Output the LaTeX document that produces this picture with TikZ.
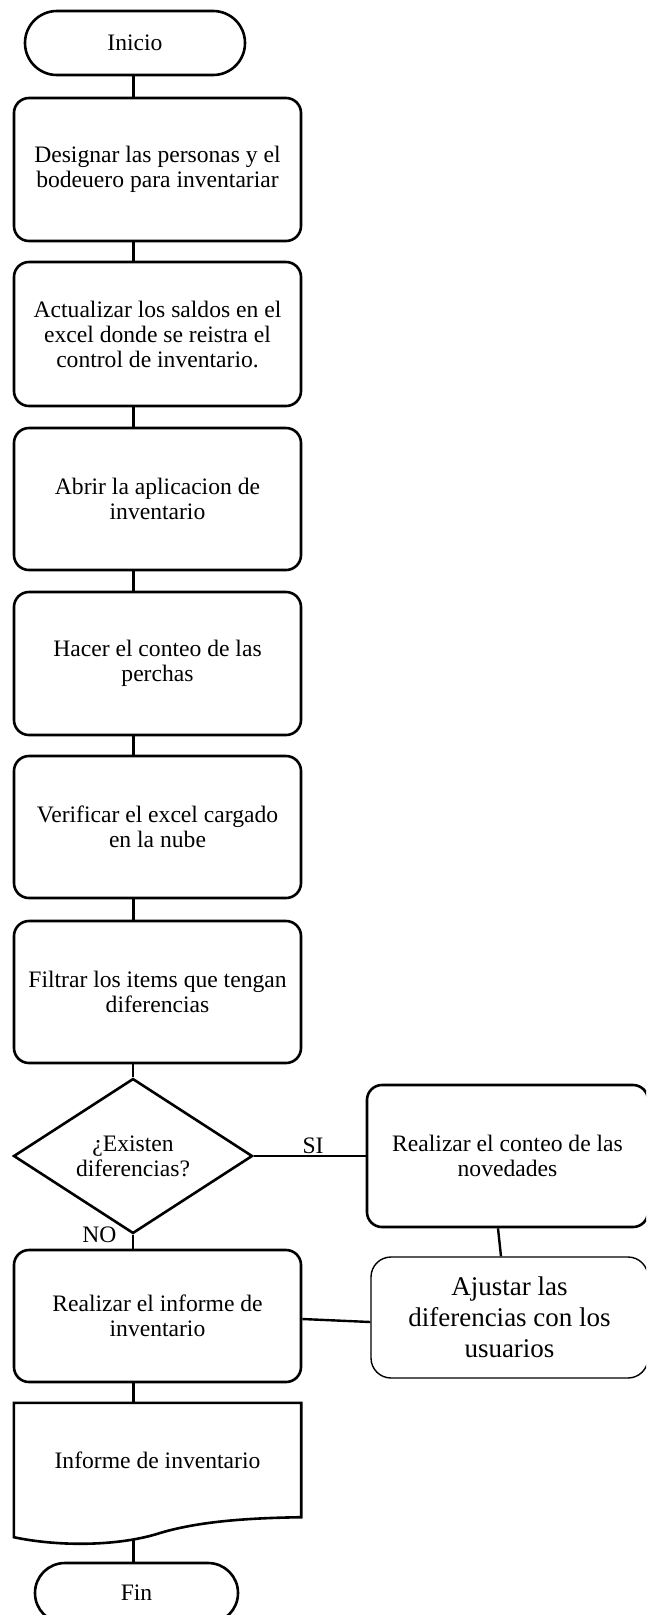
\documentclass[tikz,border=0pt]{standalone}
\usepackage{fontspec}
\setmainfont{Liberation Serif}
\usetikzlibrary{shapes.geometric,calc}
\begin{document}
\begin{tikzpicture}[x=1pt,y=-1pt,
  base/.style={font=\fontsize{23.6}{25}\selectfont, align=center, inner sep=0pt},
  term/.style={base, draw, line width=2.6pt},
  proc/.style={base, draw, line width=2.6pt, rounded corners=15pt, minimum width=287pt},
  link/.style={line width=2.4pt},
  lbl/.style={base}]
\useasboundingbox (0,0) rectangle (646,1615);
\clip (0,0) rectangle (646,1615);
\coordinate (spine) at (133.5,0);
\node[term, minimum width=220pt, minimum height=64pt, rounded corners=31.9pt] (ini) at (135,43) {Inicio};
\node[proc, minimum height=143pt] (b1) at (157.5,169.5) {Designar las personas y el\\bodeuero para inventariar};
\node[proc, minimum height=144pt] (b2) at (157.5,334) {Actualizar los saldos en el\\excel donde se reistra el\\control de inventario.};
\node[proc, minimum height=142pt] (b3) at (157.5,499) {Abrir la aplicacion de\\inventario};
\node[proc, minimum height=143pt] (b4) at (157.5,663.5) {Hacer el conteo de las\\perchas};
\node[proc, minimum height=142pt] (b5) at (157.5,827) {Verificar el excel cargado\\en la nube};
\node[proc, minimum height=142pt] (b6) at (157.5,992) {Filtrar los items que tengan\\diferencias};
\node[base, draw, diamond, line width=2.6pt, minimum width=239pt, minimum height=142pt] (dia) at (133,1156) {¿Existen\\diferencias?};
\node[proc, minimum width=281pt, minimum height=142pt] (r1) at (507.5,1156) {Realizar el conteo de las\\novedades};
\node[base, draw, line width=1.4pt, rounded corners=20pt, minimum width=277pt, minimum height=121pt, font=\fontsize{27}{31}\selectfont] (aj) at (509.5,1317.5) {Ajustar las\\diferencias con los\\usuarios};
\node[proc, minimum height=132pt] (inf) at (157.5,1316) {Realizar el informe de\\inventario};
\node[base, minimum width=287pt, minimum height=114pt] (doc) at (157.5,1460) {Informe de inventario};
\draw[line width=2.6pt] (doc.north west) -- (doc.north east) -- (doc.south east)
  .. controls (250,1518) and (200,1521) .. (160,1533)
  .. controls (120,1546) and (60,1547) .. ($(doc.south west)+(0,20)$) -- cycle;
\coordinate (docb) at (133.5,1539);
\node[term, minimum width=203pt, minimum height=60pt, rounded corners=29.9pt] (fin) at (136.5,1593) {Fin};
\draw[link] (ini.south -| spine) -- (b1.north -| spine);
\foreach \a/\b in {b1/b2,b2/b3,b3/b4,b4/b5,b5/b6}
  \draw[link] (\a.south -| spine) -- (\b.north -| spine);
\draw[link] (b6.south -| dia.north) -- (dia.north);
\draw[link] (dia.south) -- (inf.north -| dia.south);
\draw[link] (dia.east) -- (r1.west);
\draw[link] ($(r1.south)+(-9.5,0)$) -- ($(aj.north)+(-8.5,0)$);
\draw[link] ($(inf.east)+(0,3)$) -- ($(aj.west)+(0,4.5)$);
\draw[link] (inf.south -| spine) -- (doc.north -| spine);
\draw[link] (docb) -- (fin.north -| docb);
\node[lbl] (si) at (313,1146) {SI};
\node[lbl] (no) at (99.5,1234.5) {NO};
\end{tikzpicture}
\end{document}
